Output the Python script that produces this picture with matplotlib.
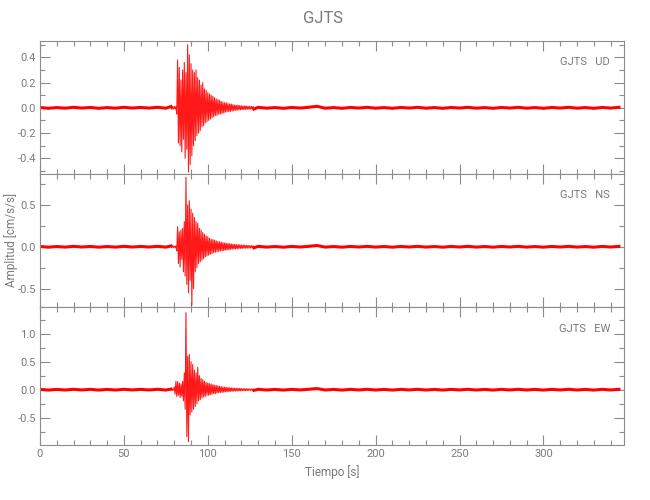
import numpy as np
import matplotlib
matplotlib.use("Agg")
import matplotlib.pyplot as plt
from matplotlib.ticker import MultipleLocator, FormatStrFormatter

plt.rcParams['font.family'] = ['Roboto', 'DejaVu Sans']

station = "GJTS"
components = ["UD", "NS", "EW"]

# sampling of the read-off trace: quiet part every 5 s, event part every 0.5 s
pre_start, pre_step = 0.0, 5.0
ev_start, ev_step = 78.0, 0.5
post_start, post_step = 130.0, 5.0

# ===== UD =====
ud_pre = [0.003, -0.004, 0.002, -0.003, 0.004, -0.002, 0.003, -0.004,
          0.002, -0.003, 0.004, -0.002, 0.003, -0.002, 0.004, -0.003]
ud_event = [0.01, -0.012, 0.008, -0.01, 0.012, -0.009, 0.01,
            -0.05, 0.38, -0.28, 0.32, -0.3, 0.22, -0.35,
            0.3, -0.25, 0.36, -0.4, 0.28, -0.33,
            0.5, -0.51, 0.42, -0.45, 0.35, -0.38, 0.3, -0.3,
            0.28, -0.26, 0.3, -0.22, 0.24, -0.2, 0.22, -0.18,
            0.18, -0.15, 0.2, -0.14, 0.15, -0.12, 0.14, -0.11,
            0.12, -0.1, 0.11, -0.09, 0.1, -0.08, 0.09, -0.07,
            0.08, -0.06, 0.07, -0.06, 0.065, -0.05, 0.06, -0.05,
            0.05, -0.045, 0.045, -0.04, 0.04, -0.035, 0.04, -0.03,
            0.035, -0.03, 0.03, -0.028, 0.03, -0.025, 0.025, -0.022,
            0.022, -0.02, 0.02, -0.018, 0.02, -0.017, 0.018, -0.016,
            0.016, -0.015, 0.015, -0.014, 0.015, -0.013, 0.014, -0.012,
            0.013, -0.012, 0.012, -0.011, 0.012, -0.01, 0.011, -0.01]
ud_post = [0.004, -0.003, 0.002, -0.004, 0.003, -0.002, 0.004, 0.012,
           -0.003, 0.002, -0.004, 0.003, -0.002, 0.004, -0.003, 0.002,
           -0.004, 0.003, -0.002, 0.004, -0.003, 0.002, -0.004, 0.003,
           -0.002, 0.004, -0.003, 0.002, -0.004, 0.003, -0.002, 0.004,
           -0.003, 0.002, -0.004, 0.003, -0.002, 0.004, -0.003, 0.002,
           -0.004, 0.003, -0.002, 0.004]

# ===== NS =====
ns_pre = [0.004, -0.005, 0.003, -0.004, 0.005, -0.003, 0.004, -0.005,
          0.003, -0.004, 0.005, -0.003, 0.004, -0.003, 0.005, -0.004]
ns_event = [0.01, -0.01, 0.012, -0.008, 0.01, -0.012, 0.01,
            -0.05, 0.24, -0.2, 0.18, -0.24, 0.2, -0.15,
            0.22, -0.3, 0.3, -0.35, 0.83, -0.45,
            0.5, -0.55, 0.55, -0.4, 0.45, -0.7, 0.4, -0.5,
            0.35, -0.3, 0.3, -0.25, 0.28, -0.2, 0.22, -0.18,
            0.2, -0.16, 0.17, -0.14, 0.15, -0.12, 0.13, -0.11,
            0.12, -0.1, 0.1, -0.09, 0.09, -0.08, 0.085, -0.07,
            0.08, -0.065, 0.07, -0.06, 0.065, -0.055, 0.06, -0.05,
            0.055, -0.05, 0.05, -0.045, 0.045, -0.04, 0.042, -0.038,
            0.04, -0.035, 0.036, -0.032, 0.033, -0.03, 0.03, -0.028,
            0.028, -0.026, 0.026, -0.024, 0.025, -0.022, 0.023, -0.02,
            0.021, -0.02, 0.02, -0.018, 0.019, -0.017, 0.018, -0.016,
            0.016, -0.015, 0.015, -0.014, 0.014, -0.013, 0.013, -0.012]
ns_post = [0.005, -0.004, 0.003, -0.005, 0.004, -0.003, 0.005, 0.015,
           -0.004, 0.003, -0.005, 0.004, -0.003, 0.005, -0.004, 0.003,
           -0.005, 0.004, -0.003, 0.005, -0.004, 0.003, -0.005, 0.004,
           -0.003, 0.005, -0.004, 0.003, -0.005, 0.004, -0.003, 0.005,
           -0.004, 0.003, -0.005, 0.004, -0.003, 0.005, -0.004, 0.003,
           -0.005, 0.004, -0.003, 0.005]

# ===== EW =====
ew_pre = [0.006, -0.007, 0.005, -0.006, 0.007, -0.005, 0.006, -0.007,
          0.005, -0.006, 0.007, -0.005, 0.006, -0.005, 0.007, -0.006]
ew_event = [0.01, -0.012, 0.012, -0.01, 0.05, -0.08, 0.15,
            -0.12, 0.14, -0.1, 0.12, -0.14, 0.1, -0.12,
            0.15, -0.2, 0.3, -0.35, 1.38, -0.84,
            0.6, -0.93, 0.63, -0.45, 0.5, -0.4, 0.45, -0.35,
            0.35, -0.3, 0.3, -0.25, 0.4, -0.2, 0.25, -0.18,
            0.2, -0.15, 0.18, -0.13, 0.15, -0.12, 0.13, -0.1,
            0.12, -0.1, 0.11, -0.09, 0.1, -0.08, 0.09, -0.07,
            0.08, -0.07, 0.075, -0.06, 0.07, -0.055, 0.06, -0.05,
            0.055, -0.05, 0.05, -0.045, 0.045, -0.04, 0.042, -0.036,
            0.04, -0.034, 0.035, -0.03, 0.032, -0.028, 0.03, -0.026,
            0.028, -0.025, 0.026, -0.023, 0.024, -0.022, 0.022, -0.02,
            0.021, -0.019, 0.02, -0.018, 0.019, -0.017, 0.018, -0.016,
            0.016, -0.015, 0.015, -0.014, 0.014, -0.013, 0.013, -0.012]
ew_post = [0.007, -0.006, 0.005, -0.007, 0.006, -0.005, 0.007, 0.02,
           -0.006, 0.005, -0.007, 0.006, -0.005, 0.007, -0.006, 0.005,
           -0.007, 0.006, -0.005, 0.007, -0.006, 0.005, -0.007, 0.006,
           -0.005, 0.007, -0.006, 0.005, -0.007, 0.006, -0.005, 0.007,
           -0.006, 0.005, -0.007, 0.006, -0.005, 0.007, -0.006, 0.005,
           -0.007, 0.006, -0.005, 0.007]

traces = [(ud_pre, ud_event, ud_post),
          (ns_pre, ns_event, ns_post),
          (ew_pre, ew_event, ew_post)]

ylims = [(-0.525, 0.53), (-0.72, 0.87), (-0.99, 1.48)]
ymajor = [0.2, 0.5, 0.5]
yminor = [0.1, 0.25, 0.25]
xlim = (0, 348)

GRAY = "#8c8c8c"
TXT = "#7a7a7a"

# panel rectangles in figure fraction (left, bottom, width, height)
rects = [(0.0615, 0.652, 0.8985, 0.266),
         (0.0615, 0.386, 0.8985, 0.266),
         (0.0615, 0.110, 0.8985, 0.276)]

fig = plt.figure(figsize=(6.5, 5), dpi=100)

for i, (pre, ev, post) in enumerate(traces):
    ax = fig.add_axes(rects[i])
    t = np.concatenate([pre_start + pre_step * np.arange(len(pre)),
                        ev_start + ev_step * np.arange(len(ev)),
                        post_start + post_step * np.arange(len(post))])
    y = np.concatenate([pre, ev, post])
    n1 = len(pre)
    n2 = n1 + len(ev)
    ax.plot(t[n1 - 1:n2 + 1], y[n1 - 1:n2 + 1], color="red", lw=0.8, alpha=0.9)
    # quiet background drawn thicker like the dense original trace
    ax.plot(t[:n1 + 1], y[:n1 + 1], color="red", lw=2.2)
    ax.plot(t[n2 - 1:], y[n2 - 1:], color="red", lw=2.2)

    ax.set_xlim(*xlim)
    ax.set_ylim(*ylims[i])
    ax.xaxis.set_major_locator(MultipleLocator(50))
    ax.xaxis.set_minor_locator(MultipleLocator(10))
    ax.yaxis.set_major_locator(MultipleLocator(ymajor[i]))
    ax.yaxis.set_minor_locator(MultipleLocator(yminor[i]))
    ax.yaxis.set_major_formatter(FormatStrFormatter("%.1f"))
    ax.tick_params(which="both", direction="in", top=True, right=True,
                   color=GRAY, labelcolor=TXT, labelsize=8, width=0.8, pad=3)
    ax.tick_params(which="major", length=7)
    ax.tick_params(which="minor", length=3.5)
    for sp in ax.spines.values():
        sp.set_color(GRAY)
        sp.set_linewidth(0.8)
    if i < 2:
        ax.tick_params(labelbottom=False)
    else:
        ax.set_xlabel("Tiempo [s]", color=TXT, fontsize=8.5, labelpad=4)
    ax.text(0.976, 0.84, f"{station}   {components[i]}", transform=ax.transAxes,
            ha="right", va="center", color=TXT, fontsize=8)

fig.text(0.017, 0.52, "Amplitud [cm/s/s]", rotation=90, ha="center", va="center",
         color=TXT, fontsize=8.5)
fig.text(0.497, 0.963, station, ha="center", va="center", color=TXT, fontsize=12)

fig.savefig("out.png", dpi=100)
